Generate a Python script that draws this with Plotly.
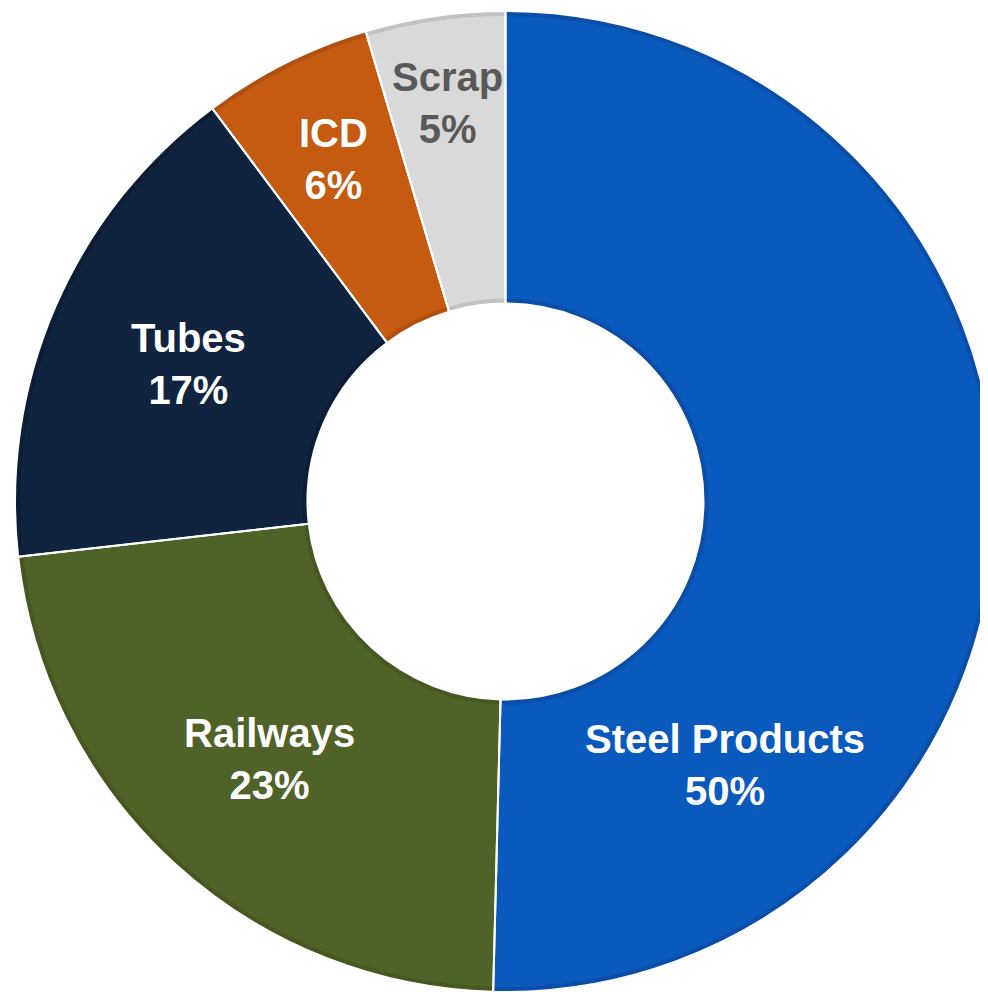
import math
import plotly.graph_objects as go

# ---- data ----
categories = ["Steel Products", "Railways", "Tubes", "ICD", "Scrap"]
shares = [50.4, 22.8, 16.6, 5.6, 4.6]
pct_labels = ["50%", "23%", "17%", "6%", "5%"]

# ---- styles ----
fill_colors = ["#0A5ABE", "#4F6228", "#10233F", "#C55A11", "#D9D9D9"]
edge_colors = ["#0A4EA8", "#465820", "#0C1D35", "#B04F10", "#C2C2C2"]
text_colors = ["#FFFFFF", "#FFFFFF", "#FFFFFF", "#FFFFFF", "#595959"]
label_radius = [0.700, 0.711, 0.705, 0.781, 0.822]   # fraction of outer radius
label_angle_shift = [49.5, 0, 0, 0, 0]              # degrees, clockwise
FONT = "Liberation Sans Narrow, Arial Narrow, Liberation Sans, Arial, sans-serif"
FONT_SIZE = 40

W, H = 988, 992
# outer ring (figure pixels: left, right, top, bottom)
OX0, OX1, OY0, OY1 = 7, 988, 0, 987
BAND = 5  # px of darker rim inside every slice
HOLE_PX = 198


def dom(x0, x1, y0, y1):
    return dict(x=[x0 / W, x1 / W], y=[1 - y1 / H, 1 - y0 / H])


r_out = min(OX1 - OX0, OY1 - OY0) / 2
r_in = r_out - BAND

fig = go.Figure()
# darker rim (full size)
fig.add_trace(go.Pie(
    labels=categories, values=shares, sort=False, direction="clockwise",
    rotation=0, hole=HOLE_PX / r_out, domain=dom(OX0, OX1, OY0, OY1),
    marker=dict(colors=edge_colors, line=dict(width=0)),
    textinfo="none", hoverinfo="label+percent", showlegend=False,
))
# main fill (slightly thinner ring)
fig.add_trace(go.Pie(
    labels=categories, values=shares, sort=False, direction="clockwise",
    rotation=0, hole=(HOLE_PX + BAND) / r_in,
    domain=dom(OX0 + BAND, OX1 - BAND, OY0 + BAND, OY1 - BAND),
    marker=dict(colors=fill_colors, line=dict(width=0)),
    textinfo="none", hoverinfo="skip", showlegend=False,
))
# white separators
fig.add_trace(go.Pie(
    labels=categories, values=shares, sort=False, direction="clockwise",
    rotation=0, hole=HOLE_PX / r_out, domain=dom(OX0, OX1, OY0, OY1),
    marker=dict(colors=["rgba(0,0,0,0)"] * len(categories),
                line=dict(color="#FFFFFF", width=2)),
    textinfo="none", hoverinfo="skip", showlegend=False,
))

# label positions derived from the slice angles
total = sum(shares)
cx_px = (OX0 + OX1) / 2
cy_px = (OY0 + OY1) / 2
cum = 0.0
for i, (cat, v) in enumerate(zip(categories, shares)):
    mid = 360 * (cum + v / 2) / total + label_angle_shift[i]
    cum += v
    th = math.radians(mid)
    rr = label_radius[i] * r_out
    x = (cx_px + rr * math.sin(th)) / W
    y = 1 - (cy_px - rr * math.cos(th)) / H
    fig.add_annotation(
        x=x, y=y, xref="paper", yref="paper", xanchor="center", yanchor="middle",
        text=f"<b>{cat}</b><br><b>{pct_labels[i]}</b>", showarrow=False,
        font=dict(family=FONT, size=FONT_SIZE, color=text_colors[i]), align="center",
    )

fig.update_layout(
    width=W, height=H, margin=dict(l=0, r=0, t=0, b=0),
    paper_bgcolor="#FFFFFF", plot_bgcolor="#FFFFFF",
)
fig.write_html("out.html")
